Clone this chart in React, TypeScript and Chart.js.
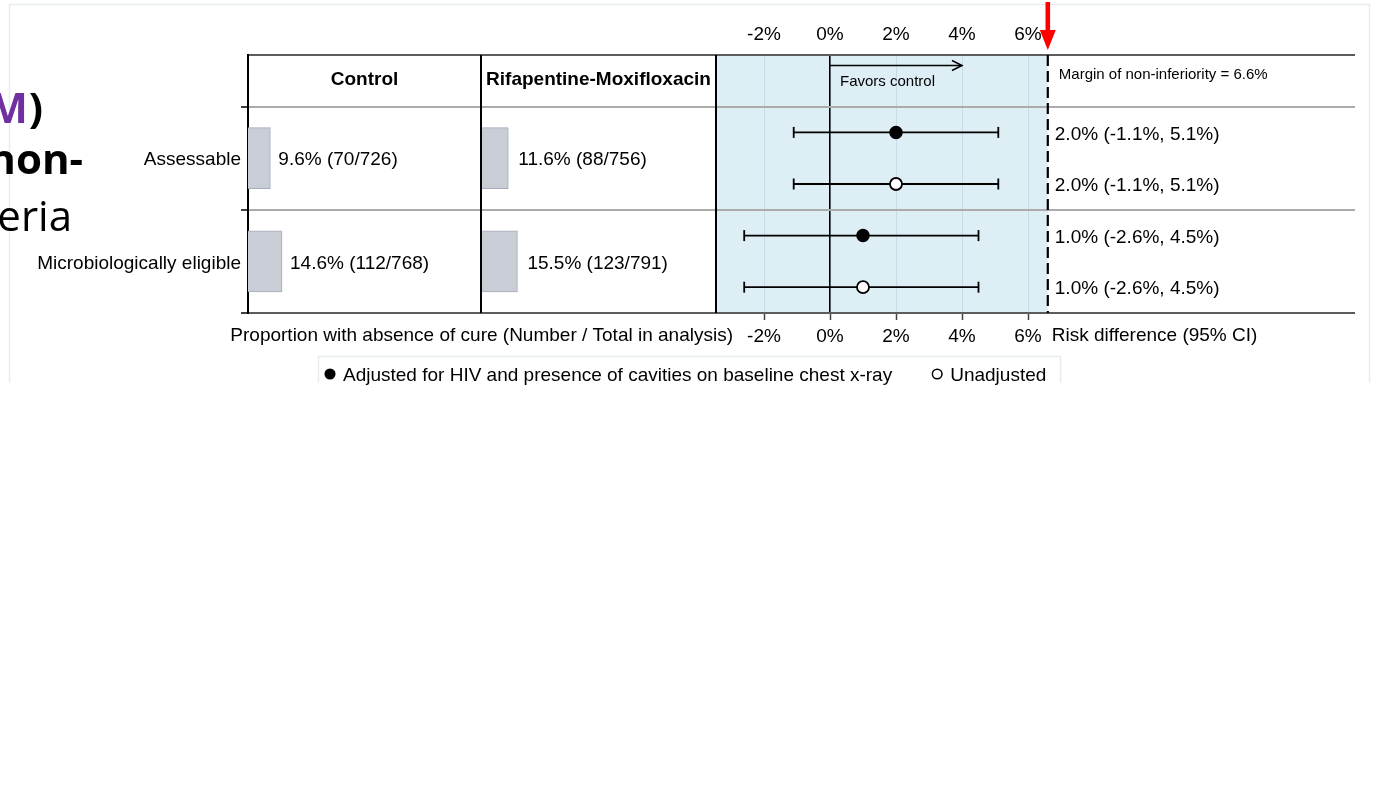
import React, { useEffect, useRef } from "react";
import { Chart, registerables } from "chart.js";

Chart.register(...registerables);

// ---------------- data ----------------
const GROUPS = ["Assessable", "Microbiologically eligible"];
const COLUMN_TITLES = ["Control", "Rifapentine-Moxifloxacin"];
const CONTROL_PCT = [9.6, 14.6];
const CONTROL_EVENTS = [70, 112];
const CONTROL_TOTAL = [726, 768];
const RIF_PCT = [11.6, 15.5];
const RIF_EVENTS = [88, 123];
const RIF_TOTAL = [756, 791];
const ADJ_EST = [2.0, 1.0];
const ADJ_LO = [-1.1, -2.6];
const ADJ_HI = [5.1, 4.5];
const UNADJ_EST = [2.0, 1.0];
const UNADJ_LO = [-1.1, -2.6];
const UNADJ_HI = [5.1, 4.5];
const RD_TICKS = [-2, 0, 2, 4, 6];
const NI_MARGIN = 6.6;
const FAVORS_TO = 4;
const LEGEND_LABELS = [
  "Adjusted for HIV and presence of cavities on baseline chest x-ray",
  "Unadjusted",
];
const AXIS_TITLE_LEFT = "Proportion with absence of cure (Number / Total in analysis)";
const AXIS_TITLE_RIGHT = "Risk difference (95% CI)";
const FAVORS_LABEL = "Favors control";

// ---------------- layout ----------------
const W = 1373;
const H = 802;
const AREA_LEFT = 248;
const AREA_RIGHT = 1355;
const AREA_TOP = 55;
const AREA_BOTTOM = 313;
const CTRL_RIGHT = 481;
const RIF_RIGHT = 716;
const ZERO_PX = 830;
const PX_PER_PCT = 33;
const AREA_W = AREA_RIGHT - AREA_LEFT;
const CTRL_PX = (CTRL_RIGHT - AREA_LEFT) / 100;
const RIF_PX = (RIF_RIGHT - CTRL_RIGHT) / 100;
const XC_MIN = 0;
const XC_MAX = AREA_W / CTRL_PX;
const XR_MIN = -(CTRL_RIGHT - AREA_LEFT) / RIF_PX;
const XR_MAX = XR_MIN + AREA_W / RIF_PX;
const XF_MIN = -(ZERO_PX - AREA_LEFT) / PX_PER_PCT;
const XF_MAX = (AREA_RIGHT - ZERO_PX) / PX_PER_PCT;
const Y_MIN = -0.5;
const Y_MAX = GROUPS.length * 2 + 0.5;
const TDY = 2; // vertical text nudge

const FONT = "'Liberation Sans', Arial, sans-serif";
const SLIDE_FONT = "'Open Sans', 'Noto Sans', sans-serif";
const SHADE = "#ddeef5";

const rowY = (g: number, k: number) => 2 * g + 1 + k;
const groupY = (g: number) => 2 * g + 1.5;
const fmt = (v: number) => `${v.toFixed(1)}%`;

function buildDatasets() {
  const ds: any[] = [];
  ds.push({
    type: "scatter",
    label: LEGEND_LABELS[0],
    xAxisID: "xf",
    yAxisID: "y",
    data: ADJ_EST.map((e, g) => ({ x: e, y: rowY(g, 0) })),
    pointRadius: 6,
    pointHoverRadius: 6,
    pointBackgroundColor: "#000",
    pointBorderColor: "#000",
    pointBorderWidth: 1.5,
    order: 0,
  });
  ds.push({
    type: "scatter",
    label: LEGEND_LABELS[1],
    xAxisID: "xf",
    yAxisID: "y",
    data: UNADJ_EST.map((e, g) => ({ x: e, y: rowY(g, 1) })),
    pointRadius: 6,
    pointHoverRadius: 6,
    pointBackgroundColor: "#fff",
    pointBorderColor: "#000",
    pointBorderWidth: 1.8,
    order: 0,
  });
  GROUPS.forEach((_, g) => {
    [
      [ADJ_LO, ADJ_HI],
      [UNADJ_LO, UNADJ_HI],
    ].forEach(([lo, hi], k) => {
      ds.push({
        type: "line",
        label: "ci",
        xAxisID: "xf",
        yAxisID: "y",
        data: [
          { x: lo[g], y: rowY(g, k) },
          { x: hi[g], y: rowY(g, k) },
        ],
        borderColor: "#000",
        borderWidth: 1.8,
        pointStyle: "line",
        pointRotation: 90,
        pointRadius: 5.5,
        pointHoverRadius: 5.5,
        pointBorderWidth: 1.8,
        pointBorderColor: "#000",
        pointBackgroundColor: "#000",
        fill: false,
        tension: 0,
        order: 1,
      });
    });
  });
  ds.push({
    type: "bar",
    label: COLUMN_TITLES[0],
    indexAxis: "y",
    xAxisID: "xc",
    yAxisID: "y",
    data: CONTROL_PCT.map((p, g) => ({ x: p, y: groupY(g) })),
    backgroundColor: "#c9cdd6",
    borderColor: "#a3aabd",
    borderWidth: 1,
    barThickness: 61,
    grouped: false,
    order: 2,
  });
  ds.push({
    type: "bar",
    label: COLUMN_TITLES[1],
    indexAxis: "y",
    xAxisID: "xr",
    yAxisID: "y",
    data: RIF_PCT.map((p, g) => ({ x: p, y: groupY(g) })),
    backgroundColor: "#c9cdd6",
    borderColor: "#a3aabd",
    borderWidth: 1,
    barThickness: 61,
    grouped: false,
    order: 2,
  });
  return ds;
}

function hline(ctx: CanvasRenderingContext2D, x0: number, x1: number, y: number) {
  ctx.beginPath();
  ctx.moveTo(x0, y);
  ctx.lineTo(x1, y);
  ctx.stroke();
}
function vline(ctx: CanvasRenderingContext2D, x: number, y0: number, y1: number) {
  ctx.beginPath();
  ctx.moveTo(x, y0);
  ctx.lineTo(x, y1);
  ctx.stroke();
}

const decorPlugin = {
  id: "forestDecor",
  beforeDraw(chart: any) {
    const { ctx, chartArea: a, scales } = chart;
    ctx.save();
    ctx.fillStyle = "#fff";
    ctx.fillRect(0, 0, chart.width, chart.height);
    // slide frame (cropped at the bottom)
    ctx.strokeStyle = "#e6eded";
    ctx.lineWidth = 1.5;
    ctx.beginPath();
    ctx.moveTo(9.5, 383);
    ctx.lineTo(9.5, 4.5);
    ctx.lineTo(1369.5, 4.5);
    ctx.lineTo(1369.5, 383);
    ctx.stroke();
    // slide title fragments
    ctx.textBaseline = "alphabetic";
    ctx.textAlign = "right";
    ctx.font = `bold 42px ${SLIDE_FONT}`;
    ctx.fillStyle = "#000";
    ctx.fillText(")", 43, 123);
    const pw = ctx.measureText(")").width;
    ctx.fillStyle = "#7030a0";
    ctx.fillText("M", 43 - pw - 1, 123);
    ctx.fillStyle = "#000";
    ctx.fillText("non-", 83, 174);
    ctx.font = `42px ${SLIDE_FONT}`;
    ctx.fillText("eria", 72, 231);
    // non-inferiority region shading
    const x0 = scales.xr.getPixelForValue(100);
    const x1 = scales.xf.getPixelForValue(NI_MARGIN);
    ctx.fillStyle = SHADE;
    ctx.fillRect(x0, a.top, x1 - x0, a.bottom - a.top);
    ctx.restore();
  },
  afterDraw(chart: any) {
    const { ctx, chartArea: a, scales } = chart;
    const { xc, xr, xf, y } = scales;
    ctx.save();
    // column separators
    ctx.strokeStyle = "#000";
    ctx.lineWidth = 2;
    vline(ctx, xc.getPixelForValue(100), a.top, a.bottom);
    vline(ctx, xr.getPixelForValue(100), a.top, a.bottom);
    // margin line
    const mx = xf.getPixelForValue(NI_MARGIN);
    ctx.lineWidth = 2.2;
    ctx.setLineDash([11, 5]);
    vline(ctx, mx, a.top, a.bottom);
    ctx.setLineDash([]);

    // header titles
    ctx.fillStyle = "#000";
    ctx.textBaseline = "middle";
    ctx.textAlign = "center";
    ctx.font = `bold 19px ${FONT}`;
    const headY = y.getPixelForValue(0) - 3 + TDY;
    ctx.fillText(COLUMN_TITLES[0], (xc.getPixelForValue(0) + xc.getPixelForValue(100)) / 2, headY);
    ctx.fillText(COLUMN_TITLES[1], (xr.getPixelForValue(0) + xr.getPixelForValue(100)) / 2, headY);

    // favors arrow
    const fx0 = xf.getPixelForValue(0);
    const fx1 = xf.getPixelForValue(FAVORS_TO);
    const fy = a.top + 10.5;
    ctx.lineWidth = 1.5;
    hline(ctx, fx0, fx1, fy);
    ctx.beginPath();
    ctx.moveTo(fx1 - 10, fy - 5);
    ctx.lineTo(fx1, fy);
    ctx.lineTo(fx1 - 10, fy + 5);
    ctx.stroke();
    ctx.textAlign = "left";
    ctx.font = `15px ${FONT}`;
    ctx.fillText(FAVORS_LABEL, fx0 + 10, a.top + 25 + TDY);
    ctx.fillText(`Margin of non-inferiority = ${NI_MARGIN}%`, mx + 11, a.top + 18 + TDY);

    // bar value labels and risk-difference texts
    ctx.font = `19px ${FONT}`;
    GROUPS.forEach((_, g) => {
      const gy = y.getPixelForValue(groupY(g)) + TDY;
      ctx.fillText(
        `${fmt(CONTROL_PCT[g])} (${CONTROL_EVENTS[g]}/${CONTROL_TOTAL[g]})`,
        xc.getPixelForValue(CONTROL_PCT[g]) + 8,
        gy
      );
      ctx.fillText(
        `${fmt(RIF_PCT[g])} (${RIF_EVENTS[g]}/${RIF_TOTAL[g]})`,
        xr.getPixelForValue(RIF_PCT[g]) + 10,
        gy
      );
      ctx.fillText(
        `${fmt(ADJ_EST[g])} (${fmt(ADJ_LO[g])}, ${fmt(ADJ_HI[g])})`,
        mx + 7,
        y.getPixelForValue(rowY(g, 0)) + TDY
      );
      ctx.fillText(
        `${fmt(UNADJ_EST[g])} (${fmt(UNADJ_LO[g])}, ${fmt(UNADJ_HI[g])})`,
        mx + 7,
        y.getPixelForValue(rowY(g, 1)) + TDY
      );
    });

    // axis titles
    const ty = a.bottom + 21 + TDY;
    ctx.textAlign = "right";
    ctx.fillText(AXIS_TITLE_LEFT, xr.getPixelForValue(100) + 17, ty);
    ctx.textAlign = "left";
    ctx.fillText(AXIS_TITLE_RIGHT, mx + 4, ty);

    // legend
    const lgTop = 356.5;
    const lgBottom = 383;
    ctx.strokeStyle = "#e6eded";
    ctx.lineWidth = 1.5;
    ctx.beginPath();
    ctx.moveTo(318.5, lgBottom);
    ctx.lineTo(318.5, lgTop);
    ctx.lineTo(1060.5, lgTop);
    ctx.lineTo(1060.5, lgBottom);
    ctx.stroke();
    const pts = chart.data.datasets.filter((d: any) => d.type === "scatter");
    let lx = 330;
    const ly = 374;
    pts.forEach((d: any) => {
      ctx.beginPath();
      ctx.arc(lx, ly, 4.8, 0, Math.PI * 2);
      ctx.fillStyle = d.pointBackgroundColor;
      ctx.fill();
      ctx.strokeStyle = d.pointBorderColor;
      ctx.lineWidth = 1.5;
      ctx.stroke();
      ctx.fillStyle = "#000";
      ctx.textAlign = "left";
      ctx.fillText(d.label, lx + 13, ly + TDY);
      lx += 13 + ctx.measureText(d.label).width + 45;
    });

    // red pointer arrow at the margin
    ctx.fillStyle = "#ff0000";
    ctx.fillRect(mx - 2.3, 2, 4.6, 32);
    ctx.beginPath();
    ctx.moveTo(mx - 8, 30);
    ctx.lineTo(mx + 8, 30);
    ctx.lineTo(mx, 50);
    ctx.closePath();
    ctx.fill();
    ctx.restore();
  },
};

const ticksFromList = (list: number[]) => (s: any) => {
  s.ticks = list.map((v) => ({ value: v }));
};

export default function App() {
  const ref = useRef<HTMLCanvasElement | null>(null);
  useEffect(() => {
    if (!ref.current) return;
    const yTicks: number[] = [];
    for (let v = Y_MIN; v <= Y_MAX + 1e-9; v += 1) yTicks.push(v);
    const chart = new Chart(ref.current, {
      type: "scatter",
      data: { datasets: buildDatasets() },
      options: {
        animation: false,
        responsive: false,
        maintainAspectRatio: false,
        devicePixelRatio: 1,
        events: [],
        layout: { padding: { left: 0, top: 0, right: W - AREA_RIGHT, bottom: 0 } },
        plugins: { legend: { display: false }, tooltip: { enabled: false } },
        scales: {
          xf: {
            type: "linear",
            axis: "x",
            position: "top",
            min: XF_MIN,
            max: XF_MAX,
            offset: false,
            afterBuildTicks: ticksFromList(RD_TICKS),
            afterFit: (s: any) => {
              s.height = AREA_TOP;
            },
            ticks: {
              autoSkip: false,
              maxRotation: 0,
              padding: 9,
              color: "#000",
              font: { family: FONT, size: 19 },
              callback: (v: any) => `${v}%`,
            },
            grid: {
              offset: false,
              drawTicks: false,
              color: (c: any) => (c.tick && c.tick.value === 0 ? "#000" : "#c6dbe4"),
              lineWidth: (c: any) => (c.tick && c.tick.value === 0 ? 1.6 : 1),
            },
            border: { display: false },
          },
          xf2: {
            type: "linear",
            axis: "x",
            position: "bottom",
            min: XF_MIN,
            max: XF_MAX,
            offset: false,
            afterBuildTicks: ticksFromList(RD_TICKS),
            afterFit: (s: any) => {
              s.height = H - AREA_BOTTOM;
            },
            ticks: {
              autoSkip: false,
              maxRotation: 0,
              padding: 5,
              color: "#000",
              font: { family: FONT, size: 19 },
              callback: (v: any) => `${v}%`,
            },
            grid: {
              offset: false,
              drawOnChartArea: false,
              drawTicks: true,
              tickLength: 7,
              tickColor: "#444",
              tickWidth: 1.5,
            },
            border: { display: false },
          },
          xc: { type: "linear", axis: "x", display: false, min: XC_MIN, max: XC_MAX, offset: false },
          xr: { type: "linear", axis: "x", display: false, min: XR_MIN, max: XR_MAX, offset: false },
          y: {
            type: "linear",
            axis: "y",
            position: "left",
            min: Y_MIN,
            max: Y_MAX,
            reverse: true,
            offset: false,
            afterBuildTicks: ticksFromList(yTicks),
            afterFit: (s: any) => {
              s.width = AREA_LEFT;
            },
            ticks: {
              autoSkip: false,
              padding: 0,
              labelOffset: 2,
              color: "#000",
              font: { family: FONT, size: 19 },
              callback: (v: any) => {
                const g = (Number(v) - 1.5) / 2;
                return Number.isInteger(g) && g >= 0 && g < GROUPS.length ? GROUPS[g] : "";
              },
            },
            grid: {
              offset: false,
              lineWidth: 2,
              color: (c: any) => {
                const v = c.tick ? c.tick.value : NaN;
                if (v === Y_MIN || v === Y_MAX) return "#5c5c5c";
                if ((v - 0.5) % 2 === 0) return "#ababab";
                return "rgba(0,0,0,0)";
              },
              tickLength: 7,
              tickWidth: 1.5,
              tickColor: (c: any) => {
                const v = c.tick ? c.tick.value : NaN;
                return v !== Y_MIN && (v - 0.5) % 2 === 0 ? "#000" : "rgba(0,0,0,0)";
              },
            },
            border: { display: true, color: "#000", width: 2 },
          },
        },
      },
      plugins: [decorPlugin],
    } as any);
    return () => chart.destroy();
  }, []);
  return (
    <div
      style={{
        position: "fixed",
        left: 0,
        top: 0,
        width: W,
        height: H,
        overflow: "hidden",
        background: "#fff",
      }}
    >
      <canvas ref={ref} width={W} height={H} style={{ display: "block", width: W, height: H }} />
    </div>
  );
}
